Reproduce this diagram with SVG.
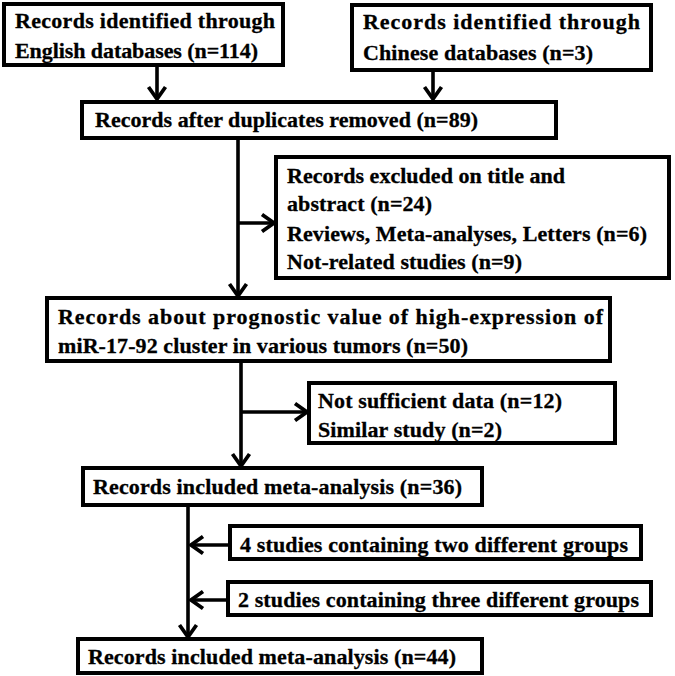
<svg xmlns="http://www.w3.org/2000/svg" width="675" height="676" viewBox="0 0 675 676">
<style>
.box{fill:#fff;stroke:#000;stroke-width:4}
.t{font-family:"Liberation Serif","Times New Roman",serif;font-weight:bold;font-size:22px;fill:#000;stroke:#000;stroke-width:0.3}
.c{fill:none;stroke:#000;stroke-width:3.6}
</style>
<defs>
<marker id="ah" markerUnits="userSpaceOnUse" markerWidth="24" markerHeight="24" refX="13" refY="9" orient="auto" overflow="visible">
<path d="M1,0.5 L13,9 L1,17.5" fill="none" stroke="#000" stroke-width="3.8"/>
</marker>
</defs>
<rect width="675" height="676" fill="#fff"/>
<g id="connectors">
<line class="c" x1="157" y1="67" x2="157" y2="99" marker-end="url(#ah)"/>
<line class="c" x1="433" y1="72" x2="433" y2="99" marker-end="url(#ah)"/>
<line class="c" x1="238" y1="140" x2="238" y2="296" marker-end="url(#ah)"/>
<line class="c" x1="238" y1="223" x2="274" y2="223" marker-end="url(#ah)"/>
<line class="c" x1="241" y1="362" x2="241" y2="466" marker-end="url(#ah)"/>
<line class="c" x1="241" y1="412" x2="307" y2="412" marker-end="url(#ah)"/>
<line class="c" x1="188" y1="506" x2="188" y2="637" marker-end="url(#ah)"/>
<line class="c" x1="229" y1="545" x2="191" y2="545" marker-end="url(#ah)"/>
<line class="c" x1="227" y1="600" x2="191" y2="600" marker-end="url(#ah)"/>
</g>
<g id="english">
<rect class="box" x="4" y="4" width="279" height="61"/>
<text class="t" x="15" y="28" textLength="260" lengthAdjust="spacing">Records identified through</text>
<text class="t" x="15" y="58" textLength="243" lengthAdjust="spacing">English databases (n=114)</text>
</g>
<g id="chinese">
<rect class="box" x="352" y="5" width="299" height="65"/>
<text class="t" x="363" y="29" textLength="277" lengthAdjust="spacing">Records identified through</text>
<text class="t" x="363" y="60" textLength="230" lengthAdjust="spacing">Chinese databases (n=3)</text>
</g>
<g id="duplicates">
<rect class="box" x="82" y="102" width="474" height="36"/>
<text class="t" x="95" y="127" textLength="383" lengthAdjust="spacing">Records after duplicates removed (n=89)</text>
</g>
<g id="excluded">
<rect class="box" x="276" y="157" width="393" height="121"/>
<text class="t" x="287" y="183" textLength="278" lengthAdjust="spacing">Records excluded on title and</text>
<text class="t" x="287" y="211" textLength="145" lengthAdjust="spacing">abstract (n=24)</text>
<text class="t" x="287" y="241" textLength="360" lengthAdjust="spacing">Reviews, Meta-analyses, Letters (n=6)</text>
<text class="t" x="287" y="269" textLength="235" lengthAdjust="spacing">Not-related studies (n=9)</text>
</g>
<g id="prognostic">
<rect class="box" x="47" y="298" width="563" height="63"/>
<text class="t" x="58" y="324" textLength="545" lengthAdjust="spacing">Records about prognostic value of high-expression of</text>
<text class="t" x="58" y="353" textLength="410" lengthAdjust="spacing">miR-17-92 cluster in various tumors (n=50)</text>
</g>
<g id="insufficient">
<rect class="box" x="309" y="383" width="306" height="60"/>
<text class="t" x="318" y="408" textLength="244" lengthAdjust="spacing">Not sufficient data (n=12)</text>
<text class="t" x="318" y="437" textLength="184" lengthAdjust="spacing">Similar study (n=2)</text>
</g>
<g id="included36">
<rect class="box" x="83" y="468" width="399" height="37"/>
<text class="t" x="93" y="494" textLength="369" lengthAdjust="spacing">Records included meta-analysis (n=36)</text>
</g>
<g id="two-groups">
<rect class="box" x="230" y="526" width="411" height="33"/>
<text class="t" x="240" y="552" textLength="388" lengthAdjust="spacing">4 studies containing two different groups</text>
</g>
<g id="three-groups">
<rect class="box" x="228" y="582" width="423" height="33"/>
<text class="t" x="238" y="607" textLength="401" lengthAdjust="spacing">2 studies containing three different groups</text>
</g>
<g id="included44">
<rect class="box" x="78" y="639" width="404" height="34"/>
<text class="t" x="88" y="664" textLength="368" lengthAdjust="spacing">Records included meta-analysis (n=44)</text>
</g>
</svg>
